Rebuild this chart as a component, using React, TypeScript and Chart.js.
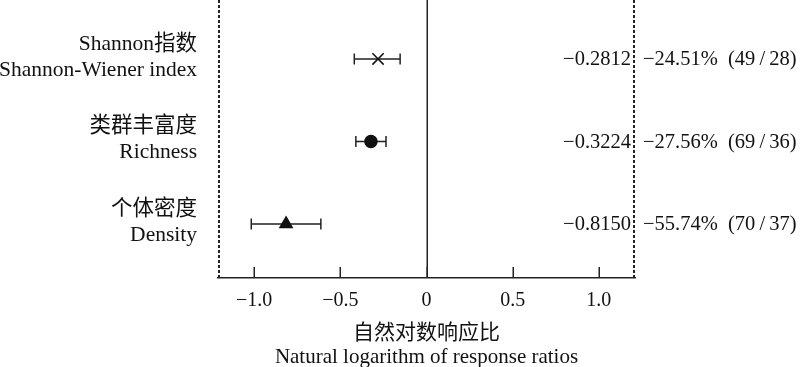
import React, { useEffect, useRef } from "react";
import { Chart, registerables } from "chart.js";

Chart.register(...registerables);

// ---- data ----
const rowsCn = ["Shannon指数", "类群丰富度", "个体密度"];
const rowsEn = ["Shannon-Wiener index", "Richness", "Density"];
const rowPos = [3, 2, 1];
const meanLnRR = [-0.2812, -0.3224, -0.815];
const ciLow = [-0.419, -0.41, -1.017];
const ciHigh = [-0.153, -0.235, -0.613];
const meanText = ["−0.2812", "−0.3224", "−0.8150"];
const pctText = ["−24.51%", "−27.56%", "−55.74%"];
const nText = ["(49\u2009/\u200928)", "(69\u2009/\u200936)", "(70\u2009/\u200937)"];
const markerStyles = ["crossRot", "circle", "triangle"];
const markerRadius = [8, 6, 7];
const xTickValues = [-1, -0.5, 0, 0.5, 1];
const xTitle = ["自然对数响应比", "Natural logarithm of response ratios"];

const FONT = "'Liberation Serif', 'Times New Roman', 'Noto Sans CJK SC', serif";
const INK = "#111";
const LINE = "#222";

const overlay = {
  id: "forestOverlay",
  beforeDatasetsDraw(chart: any) {
    const { ctx, chartArea, scales } = chart;
    const xs = scales.x;
    const ys = scales.y;
    ctx.save();
    // dashed side borders
    ctx.strokeStyle = LINE;
    ctx.lineWidth = 2;
    ctx.setLineDash([3, 2]);
    [chartArea.left + 1, chartArea.right - 1].forEach((x: number) => {
      ctx.beginPath();
      ctx.moveTo(x, chartArea.top);
      ctx.lineTo(x, chartArea.bottom);
      ctx.stroke();
    });
    ctx.setLineDash([]);
    // zero line
    ctx.lineWidth = 1.5;
    const x0 = Math.round(xs.getPixelForValue(0)) + 0.25;
    ctx.beginPath();
    ctx.moveTo(x0, chartArea.top);
    ctx.lineTo(x0, chartArea.bottom);
    ctx.stroke();
    // inward ticks
    xTickValues.forEach((v) => {
      const px = Math.round(xs.getPixelForValue(v)) + 0.25;
      ctx.beginPath();
      ctx.moveTo(px, chartArea.bottom);
      ctx.lineTo(px, chartArea.bottom - 11);
      ctx.stroke();
    });
    // error bars
    ctx.lineWidth = 1.5;
    rowPos.forEach((r, i) => {
      const y = ys.getPixelForValue(r);
      const a = xs.getPixelForValue(ciLow[i]);
      const b = xs.getPixelForValue(ciHigh[i]);
      ctx.beginPath();
      ctx.moveTo(a, y);
      ctx.lineTo(b, y);
      ctx.moveTo(a, y - 5.5);
      ctx.lineTo(a, y + 5.5);
      ctx.moveTo(b, y - 5.5);
      ctx.lineTo(b, y + 5.5);
      ctx.stroke();
    });
    // texts
    ctx.fillStyle = INK;
    ctx.textBaseline = "middle";
    rowPos.forEach((r, i) => {
      const y = ys.getPixelForValue(r);
      ctx.font = `21.5px ${FONT}`;
      ctx.textAlign = "right";
      ctx.fillText(rowsCn[i], chartArea.left - 21, y - 15);
      ctx.fillText(rowsEn[i], chartArea.left - 21, y + 11);
      ctx.font = `20.5px ${FONT}`;
      ctx.fillText(meanText[i], chartArea.right - 4, y + 1);
      ctx.textAlign = "left";
      ctx.fillText(pctText[i], chartArea.right + 8, y + 1);
      ctx.fillText(nText[i], chartArea.right + 93, y + 1);
    });
    ctx.restore();
  },
};

export default function App() {
  const ref = useRef<HTMLCanvasElement | null>(null);
  useEffect(() => {
    document.body.style.margin = "0";
    const chart = new Chart(ref.current as HTMLCanvasElement, {
      type: "scatter",
      data: {
        datasets: [
          {
            data: meanLnRR.map((v, i) => ({ x: v, y: rowPos[i] })),
            pointStyle: markerStyles as any,
            pointRadius: markerRadius,
            pointHoverRadius: markerRadius,
            borderColor: INK,
            backgroundColor: INK,
            pointBorderWidth: 1.5,
            showLine: false,
          },
        ],
      },
      options: {
        responsive: false,
        animation: false,
        layout: { autoPadding: false, padding: { left: 218, right: 165, top: 0, bottom: 0 } },
        plugins: { legend: { display: false }, tooltip: { enabled: false } },
        scales: {
          x: {
            type: "linear",
            min: -1.21,
            max: 1.21,
            afterBuildTicks: (s: any) => {
              s.ticks = xTickValues.map((v) => ({ value: v }));
            },
            afterFit: (s: any) => {
              s.height = 89;
            },
            grid: { display: false, drawTicks: false },
            border: { display: true, color: LINE, width: 1.5 },
            ticks: {
              padding: 11,
              color: INK,
              font: { family: FONT, size: 20 },
              callback: (v: any) =>
                Number(v) === 0 ? "0" : Number(v).toFixed(1).replace("-", "−"),
            },
            title: {
              display: true,
              text: xTitle,
              color: INK,
              font: { family: FONT, size: 21, lineHeight: 1.15 },
              padding: { top: 0, bottom: -3 },
            },
          },
          y: {
            type: "linear",
            display: false,
            min: 0.345,
            max: 3.715,
          },
        },
      },
      plugins: [overlay],
    });
    return () => chart.destroy();
  }, []);
  return (
    <canvas
      ref={ref}
      width={800}
      height={367}
      style={{ display: "block", position: "absolute", left: 0, top: 0 }}
    />
  );
}
